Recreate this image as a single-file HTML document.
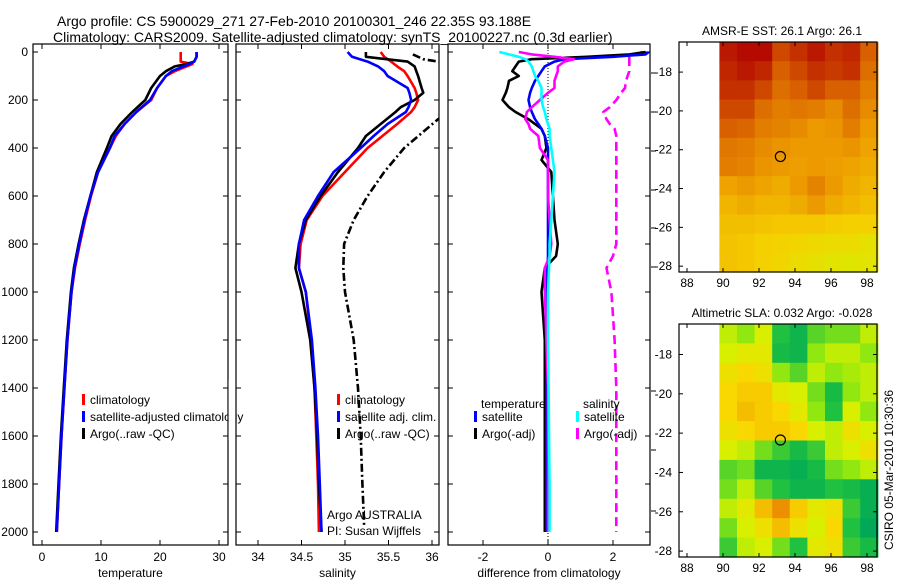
<!DOCTYPE html>
<html><head><meta charset="utf-8">
<style>
body{margin:0;background:#fff;}
svg text{font-family:"Liberation Sans",sans-serif;fill:#000;}
</style></head>
<body>
<svg id="chart" width="900" height="580" xmlns="http://www.w3.org/2000/svg">
<text x="57" y="26" font-size="14">Argo profile: CS 5900029_271 27-Feb-2010 20100301_246 22.35S 93.188E</text>
<text x="53" y="42" font-size="14">Climatology: CARS2009. Satellite-adjusted climatology: synTS_20100227.nc (0.3d earlier)</text>
<g id="g"></g>
</svg>
<script>
// ---------- data ----------
const depths = [0,20,40,50,60,80,100,150,200,250,300,350,400,500,600,700,800,900,1000,1200,1400,1600,1800,2000];
const tempClim = [23.5,23.5,23.5,25.5,24.5,22.5,21,19.5,18.5,16,14,12.5,11.5,9.5,8.3,7.3,6.4,5.6,5,4.3,3.8,3.3,2.9,2.5];
const tempSat  = [26.2,26.2,25.8,25,24,22,21,19.5,18.3,16,14,12.3,11.5,9.5,8.2,7.2,6.3,5.5,5,4.3,3.8,3.3,2.9,2.5];
const tempArgo = [26.2,26.2,25.8,24.5,22.5,21,20,18.5,17.5,15.3,13.3,11.8,11.0,9.3,8.2,7.1,6.2,5.4,4.9,4.2,3.7,3.2,2.8,2.4];

const salDepths = [0,20,40,60,80,100,150,170,200,230,250,300,350,400,500,600,700,800,900,1000,1200,1400,1600,1800,2000];
const salClim = [35.41,35.45,35.53,35.6,35.68,35.72,35.8,35.82,35.84,35.8,35.76,35.6,35.43,35.26,35.0,34.74,34.56,34.49,34.47,34.55,34.61,34.65,34.67,34.69,34.70];
const salSat  = [35.03,35.08,35.26,35.38,35.45,35.49,35.72,35.74,35.76,35.73,35.7,35.49,35.33,35.18,34.87,34.69,34.53,34.47,34.47,34.55,34.62,34.66,34.69,34.71,34.73];
const salArgo = [35.24,35.24,35.72,35.8,35.82,35.84,35.88,35.9,35.8,35.64,35.58,35.41,35.24,35.15,34.92,34.72,34.55,34.47,34.43,34.5,34.6,34.65,34.68,34.7,34.73];
const rawDepths = [10,30,40,100,200,280,400,500,600,700,800,900,1000,1200,1400,1600,1800,1970];
const salRaw = [35.78,35.9,36.07,36.5,36.5,36.07,35.68,35.45,35.26,35.1,34.99,34.98,35.0,35.1,35.15,35.18,35.2,35.22];

const diffDepths = [0,10,20,30,40,60,80,100,120,150,170,200,230,250,280,300,320,350,400,450,500,600,700,800,850,900,1000,1200,1400,1600,1800,2000];
const dTempSat  = [3.1,3.0,2.0,0.5,0.2,-0.1,-0.2,-0.3,-0.4,-0.5,-0.55,-0.6,-0.55,-0.5,-0.4,-0.3,-0.2,-0.1,0,0,0,0,0,0,0,-0.02,-0.05,-0.05,-0.05,-0.05,-0.05,-0.05];
const dTempArgo = [3.0,2.5,1.2,-0.5,-0.9,-1.0,-1.1,-0.9,-1.2,-1.25,-1.3,-1.4,-1.2,-1.0,-0.6,-0.4,-0.2,-0.1,-0.05,-0.2,0.1,0.15,0.2,0.3,0.25,-0.1,-0.2,-0.1,-0.1,-0.1,-0.1,-0.1];
const dSalSat   = [-1.5,-1.2,-0.9,-0.7,-0.6,-0.5,-0.45,-0.4,-0.3,-0.2,-0.2,-0.2,-0.15,-0.1,-0.05,0,0.05,0.05,0.1,0.15,0.2,0.15,0.1,0.05,0.05,0.03,0,0,0.02,0.03,0.05,0.05];
const dSalArgo  = [-0.9,-0.5,0.2,0.8,0.5,0.3,0.3,0.25,0.2,0.2,0.0,-0.25,-0.5,-0.65,-0.7,-0.6,-0.55,-0.3,-0.25,0,0,0,0.05,0.1,0.05,-0.1,-0.1,-0.05,0,0,0,0];
const dSalRaw   = [2.9,2.7,2.5,2.5,2.5,2.5,2.5,2.45,2.4,2.37,2.25,2.1,1.9,1.7,1.8,1.9,2.05,2.1,2.1,2.1,2.1,2.1,2.1,2.1,2.0,1.8,1.95,2.05,2.1,2.1,2.1,2.1];

const sstGrid = [
[.95,.98,.98,.85,.9,.95,.9,.92,.8],
[.92,.95,.92,.8,.85,.9,.88,.9,.75],
[.9,.9,.85,.75,.8,.85,.8,.8,.7],
[.85,.85,.75,.7,.72,.7,.65,.75,.65],
[.8,.78,.7,.68,.65,.6,.62,.7,.6],
[.72,.7,.65,.62,.6,.6,.6,.62,.55],
[.7,.68,.62,.6,.58,.6,.58,.55,.5],
[.55,.6,.55,.5,.6,.68,.6,.5,.45],
[.45,.5,.45,.45,.5,.6,.5,.45,.4],
[.4,.4,.38,.35,.35,.35,.32,.3,.3],
[.38,.35,.3,.28,.25,.22,.2,.2,.15],
[.38,.35,.3,.25,.2,.15,.12,.1,.12]];
const slaGrid = [
[0,-.2,.1,-.6,-.8,-.4,-.3,-.3,0],
[.1,.2,.2,-.7,-.8,-.2,0,0,-.2],
[.3,.4,.3,-.2,-.4,0,-.2,-.1,0],
[.4,.5,.5,.2,.1,-.3,-.7,-.2,0],
[.4,.6,.5,.4,.2,-.2,-.6,.1,-.2],
[.3,.4,.5,.5,.4,.1,0,.3,.1],
[.1,0,-.3,-.5,-.7,-.5,0,.1,.3],
[-.4,-.3,-.8,-.8,-.9,-.7,-.3,-.2,0],
[-.3,0,-.4,-.6,-.8,-.8,-.6,-.7,-.9],
[0,.2,.6,.9,.5,.2,.3,-.5,-.9],
[-.3,.1,.3,.6,.3,.1,.4,-.6,-1],
[-.5,0,.1,-.3,-.6,.2,.3,-.5,-.7]];
const depthTicks = [0,200,400,600,800,1000,1200,1400,1600,1800,2000];
const tempTicks = [0,10,20,30];
const salTicks = [34,34.5,35,35.5,36];
const diffTicks = [-2,0,2];
const lonTicks = [88,90,92,94,96,98];
const latTicks = [-18,-20,-22,-24,-26,-28];
const floatLon = 93.188, floatLat = -22.35;

// ---------- drawing ----------
const NS="http://www.w3.org/2000/svg";
const G=document.getElementById('g');
function mk(tag,attrs,parent){const e=document.createElementNS(NS,tag);for(const k in attrs)e.setAttribute(k,attrs[k]);(parent||G).appendChild(e);return e;}
function txt(s,x,y,size,anchor,name){const t=mk('text',{x:x,y:y,'font-size':size,'text-anchor':anchor||'start'});t.textContent=s;


return t;}
const yD = d => 52 + d*0.24;
const Y0=44, Y1=545;
const xT = v => 42 + v*5.9;
const xS = v => 258 + (v-34)*87;
const xF = v => 548 + v*32.5;

function frame(x0,x1,name){const r=mk('rect',{x:x0,y:Y0,width:x1-x0,height:Y1-Y0,fill:'none',stroke:'#000','stroke-width':1.2});

}
function clip(id,x0,x1){const c=mk('clipPath',{id:id});mk('rect',{x:x0,y:Y0,width:x1-x0,height:Y1-Y0},c);}
function line(ds,vs,xf,color,name,dash,clipId){
 const pts=ds.map((d,i)=>xf(vs[i]).toFixed(1)+','+yD(d).toFixed(1)).join(' ');
 const p=mk('polyline',{points:pts,fill:'none',stroke:color,'stroke-width':2.6,'stroke-linejoin':'round'});
 if(dash)p.setAttribute('stroke-dasharray',dash);
 if(clipId)p.setAttribute('clip-path','url(#'+clipId+')');
 
 
}
function xticks(ticks,xf,x0,x1,label,name){
 ticks.forEach(t=>{const x=xf(t);mk('line',{x1:x,y1:Y1,x2:x,y2:Y1-5,stroke:'#000'});mk('line',{x1:x,y1:Y0,x2:x,y2:Y0+5,stroke:'#000'});
  txt(String(t),x,561,12,'middle','x-tick-label');});
 txt(label,(x0+x1)/2,577,12,'middle',name);
}
function yticks(x0,x1,labels){
 depthTicks.forEach(d=>{const y=yD(d);mk('line',{x1:x0,y1:y,x2:x0+5,y2:y,stroke:'#000'});mk('line',{x1:x1,y1:y,x2:x1-5,y2:y,stroke:'#000'});
  if(labels)txt(String(d),28,y+4,12,'end','y-tick-label');});
}
function legend(x,y,items){items.forEach((it,i)=>{const r=mk('rect',{x:x,y:y+i*17-10,width:3,height:11,fill:it[1]});
 
 
 txt(it[0],x+8,y+i*17,12,'start','legend-entry');});}

// Panel 1: temperature
clip('c1',33,228);frame(33,228,'temperature-axes');yticks(33,228,true);
xticks(tempTicks,xT,33,228,'temperature','x-axis-title-temperature');
line(depths,tempClim,xT,'#f00','temp-climatology-line',null,'c1');
line(depths,tempArgo,xT,'#000','temp-argo-line',null,'c1');
line(depths,tempSat,xT,'#00f','temp-satellite-line',null,'c1');
legend(82,404,[['climatology','#f00'],['satellite-adjusted climatology','#00f'],['Argo(..raw -QC)','#000']]);
mk('rect',{x:228.6,y:380,width:8,height:60,fill:'#fff'});

// Panel 2: salinity
clip('c2',236,439);frame(236,439,'salinity-axes');yticks(236,439,false);
xticks(salTicks,xS,236,439,'salinity','x-axis-title-salinity');
line(salDepths,salClim,xS,'#f00','sal-climatology-line',null,'c2');
line(salDepths,salArgo,xS,'#000','sal-argo-line',null,'c2');
line(salDepths,salSat,xS,'#00f','sal-satellite-line',null,'c2');
line(rawDepths,salRaw,xS,'#000','sal-argo-raw-line','8,3,2,3','c2');
legend(337,404,[['climatology','#f00'],['satellite adj. clim.','#00f'],['Argo(..raw -QC)','#000']]);
txt('Argo AUSTRALIA',327,519,12,'start','argo-australia-note');
txt('PI: Susan Wijffels',327,535,12,'start','pi-note');

// Panel 3: differences
clip('c3',448,650);frame(448,650,'difference-axes');yticks(448,650,false);
xticks(diffTicks,xF,448,650,'difference from climatology','x-axis-title-difference');
mk('line',{x1:xF(0),y1:Y0,x2:xF(0),y2:Y1,stroke:'#000','stroke-dasharray':'1,2','stroke-width':1});
line(diffDepths,dSalRaw,xF,'#f0f','diff-sal-raw-line','9,5','c3');
line(diffDepths,dTempArgo,xF,'#000','diff-temp-argo-line',null,'c3');
line(diffDepths,dTempSat,xF,'#00f','diff-temp-satellite-line',null,'c3');
line(diffDepths,dSalArgo,xF,'#f0f','diff-sal-argo-line',null,'c3');
line(diffDepths,dSalSat,xF,'#0ff','diff-sal-satellite-line',null,'c3');
txt('temperature',481,408,12,'start','legend-title-temperature');
txt('salinity',583,408,12,'start','legend-title-salinity');
legend(474,421,[['satellite','#00f'],['Argo(-adj)','#000']]);
legend(576,421,[['satellite','#0ff'],['Argo(-adj)','#f0f']]);
[73,112,151,190,228,267,391,450,511].forEach(y=>mk('line',{x1:651,y1:y,x2:656,y2:y,stroke:'#000'}));

// ---------- maps ----------
function lerp(a,b,t){return a+(b-a)*t;}
function cmap(stops,v){for(let i=1;i<stops.length;i++){if(v<=stops[i][0]||i==stops.length-1){const a=stops[i-1],b=stops[i];const t=Math.max(0,Math.min(1,(v-a[0])/(b[0]-a[0])));
 return 'rgb('+[0,1,2].map(k=>Math.round(lerp(a[1][k],b[1][k],t))).join(',')+')';}}}
const sstStops=[[0,[214,240,0]],[0.3,[245,208,0]],[0.6,[236,154,0]],[0.8,[216,96,0]],[1,[176,0,0]]];
const slaStops=[[-1,[0,168,88]],[-0.6,[32,192,64]],[-0.2,[144,232,16]],[0.1,[216,240,0]],[0.4,[248,216,0]],[0.7,[244,176,0]],[1,[232,128,0]]];
function map(top,bottom,grid,stops,title,name){
 const xL=lon=>687+(lon-88)*18;
 const pxLat=(bottom-top)/11.85;
 const yLat=lat=>top+(-16.45-lat)*pxLat;
 const nR=grid.length,nC=grid[0].length;
 const lon0=89.8,lon1=98.6,lat0=-16.45,lat1=-28.3;
 const cw=(lon1-lon0)/nC, ch=(lat0-lat1)/nR;
 for(let r=0;r<nR;r++)for(let c=0;c<nC;c++){
  const x=xL(lon0+c*cw), y=yLat(lat0-r*ch);
  const rc=mk('rect',{x:x.toFixed(1),y:y.toFixed(1),width:(cw*18+0.6).toFixed(1),height:(ch*pxLat+0.6).toFixed(1),fill:cmap(stops,grid[r][c])});
  
  
 }
 const f=mk('rect',{x:679,y:top,width:198,height:bottom-top,fill:'none',stroke:'#000','stroke-width':1.2});
 
 
 lonTicks.forEach(l=>{const x=xL(l);mk('line',{x1:x,y1:bottom,x2:x,y2:bottom-4,stroke:'#000'});mk('line',{x1:x,y1:top,x2:x,y2:top+4,stroke:'#000'});txt(String(l),x,bottom+15,12,'middle','lon-tick-label');});
 latTicks.forEach(l=>{const y=yLat(l);mk('line',{x1:679,y1:y,x2:683,y2:y,stroke:'#000'});mk('line',{x1:877,y1:y,x2:873,y2:y,stroke:'#000'});txt(String(l),672,y+4,12,'end','lat-tick-label');});
 const c=mk('circle',{cx:xL(floatLon),cy:yLat(floatLat),r:5,fill:'none',stroke:'#000','stroke-width':1.2});
 
 
 txt(title,782,top-7,12,'middle',name+'-title');
}
map(42,272,sstGrid,sstStops,'AMSR-E SST: 26.1 Argo: 26.1','sst-map');
map(324,557,slaGrid,slaStops,'Altimetric SLA: 0.032 Argo: -0.028','sla-map');
const st=txt('CSIRO 05-Mar-2010 10:30:36',0,0,12,'middle','timestamp');
st.setAttribute('transform','translate(893,470) rotate(-90)');
</script>
</body></html>
